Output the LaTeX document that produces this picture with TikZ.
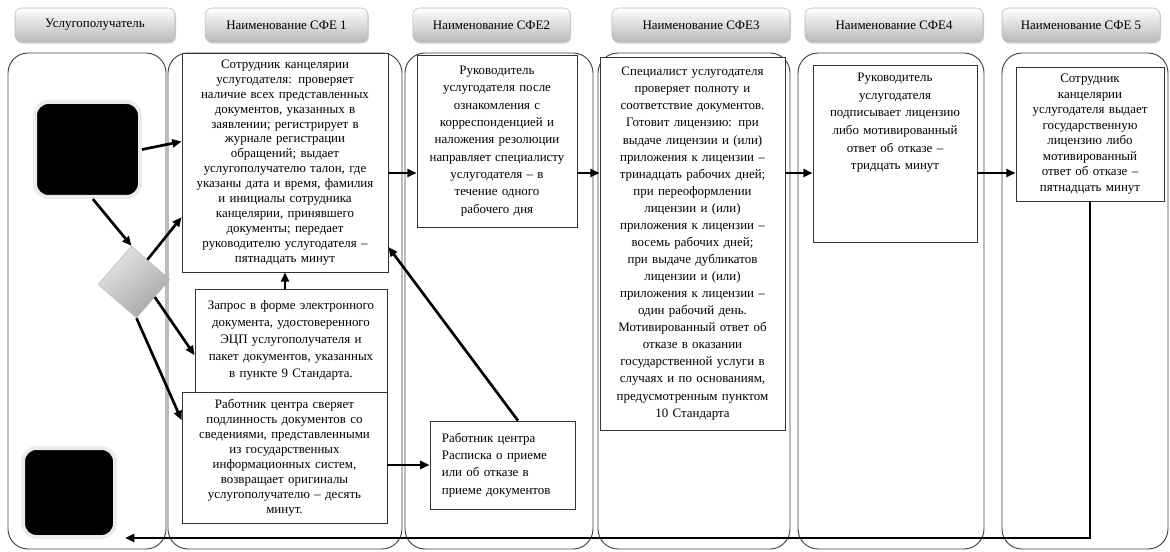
\documentclass[tikz,border=0pt]{standalone}
\usepackage{fontspec}
\setmainfont{Liberation Serif}
\usetikzlibrary{positioning,shapes.geometric,arrows.meta,shadows}

\begin{document}
\begin{tikzpicture}[x=0.75pt,y=-0.75pt,
    lane/.style={draw=black!75,line width=0.7pt,rounded corners=15pt},
    tab/.style={draw=gray!55,rounded corners=5pt,top color=white,bottom color=gray!55,
        drop shadow={opacity=0.35,shadow xshift=0.8pt,shadow yshift=-1.2pt},
        font=\fontsize{9.7}{11}\selectfont,minimum height=25.5pt,inner sep=0pt},
    txt/.style={align=center,inner sep=2pt,font=\fontsize{9.7}{#1}\selectfont},
    box/.style={txt=#1,draw=black!80,line width=0.6pt,fill=white},
    blk/.style={fill=black,draw=gray!15,line width=3pt,rounded corners=10pt,inner sep=0pt},
    arr/.style={line width=2pt,-{Triangle[length=7pt,width=6pt]}}]
    \useasboundingbox (0,0) rectangle (1170,552);

    \draw[lane] (8,53) rectangle (166,549);
    \draw[lane] (168,53) rectangle (402,549);
    \draw[lane] (405,53) rectangle (593,549);
    \draw[lane] (598,53) rectangle (790,549);
    \draw[lane] (798,53) rectangle (984,549);
    \draw[lane] (1002,53) rectangle (1168,549);

    \node (h0) at (95,25) [tab,minimum width=120pt] {Услугополучатель};
    \node (h1) at (286.5,25) [tab,minimum width=122pt] {Наименование СФЕ 1};
    \node (h2) at (491.5,25) [tab,minimum width=118pt] {Наименование СФЕ2};
    \node (h3) at (701,25) [tab,minimum width=133.5pt] {Наименование СФЕ3};
    \node (h4) at (894,25) [tab,minimum width=133.5pt] {Наименование СФЕ4};
    \node (h5) at (1081,25) [tab,minimum width=118.5pt] {Наименование СФЕ 5};

    \node (s1) at (285,162.5) [box=11.2,minimum width=154.5pt,minimum height=164.25pt,text width=150pt]
        {Сотрудник канцелярии\\ услугодателя: проверяет\\ наличие всех представленных\\
         документов, указанных в\\ заявлении; регистрирует в\\ журнале регистрации\\
         обращений;  выдает\\ услугополучателю талон, где\\ указаны дата и время, фамилия\\
         и инициалы сотрудника\\ канцелярии,  принявшего\\ документы; передает\\
         руководителю  услугодателя –\\ пятнадцать  минут};
    \node (zap) at (291,340.5) [box=12.75,minimum width=144pt,minimum height=77.25pt,text width=139.5pt]
        {Запрос в форме электронного\\ документа, удостоверенного\\ ЭЦП услугополучателя и\\
         пакет документов, указанных\\ в пункте 9 Стандарта.};
    \node (rab) at (284.5,457.5) [box=11.25,minimum width=153.75pt,minimum height=98.25pt,text width=149pt]
        {Работник центра сверяет\\ подлинность документов со\\ сведениями, представленными\\
         из государственных\\ информационных систем,\\ возвращает оригиналы\\
         услугополучателю – десять\\ минут.};
    \node (s2) at (497,141) [box=13,minimum width=120pt,minimum height=129pt,text width=115.5pt]
        {Руководитель\\ услугодателя после\\ ознакомления с\\ корреспонденцией и\\
         наложения резолюции\\ направляет специалисту\\ услугодателя – в\\ течение одного\\
         рабочего дня};
    \node (ras) at (502.5,465) [box=13,align=left,minimum width=108.75pt,minimum height=66pt,
        text width=91pt,inner xsep=8.9pt]
        {Работник центра\\ Расписка о приеме\\ или об отказе в\\ приеме документов};
    \node (s3) at (692.5,243.5) [box=12.8,minimum width=138.75pt,minimum height=279.75pt,text width=134pt]
        {Специалист услугодателя\\ проверяет полноту и\\ соответствие документов.\\
         Готовит  лицензию:  при\\ выдаче лицензии и (или)\\ приложения к лицензии –\\
         тринадцать рабочих дней;\\ при переоформлении\\ лицензии и (или)\\
         приложения к лицензии –\\ восемь рабочих дней;\\ при выдаче дубликатов\\
         лицензии и (или)\\ приложения к лицензии –\\ один рабочий день.\\
         Мотивированный ответ об\\ отказе в оказании\\ государственной услуги в\\
         случаях и по основаниям,\\ предусмотренным пунктом\\ 10 Стандарта};
    \node (s4) at (895,153.5) [box=13.3,minimum width=123pt,minimum height=132.75pt] {};
    \node (t4) [txt=13.3,text width=118pt,below=4pt of s4.north]
        {Руководитель\\ услугодателя\\ подписывает лицензию\\ либо мотивированный\\
         ответ об отказе –\\ тридцать минут};
    \node (s5) at (1090,134) [box=11.6,minimum width=111pt,minimum height=100.5pt,text width=106.5pt]
        {Сотрудник\\ канцелярии\\ услугодателя выдает\\ государственную\\ лицензию либо\\
         мотивированный\\ ответ об отказе –\\ пятнадцать минут};

    \node (u1) at (87.5,149.5) [blk,minimum width=78.75pt,minimum height=71.25pt] {};
    \node (u2) at (69,492.5) [blk,minimum width=69pt,minimum height=66.75pt] {};
    \node (d) at (134,282) [diamond,aspect=1,minimum width=54pt,minimum height=54pt,inner sep=0pt,
        rotate=4,draw=gray!55,top color=gray!20,bottom color=gray!70,shading angle=40] {};

    \coordinate (mid) at (0,173);
    \coordinate (bot) at (0,538);
    \draw[arr] (u1.east) -- ([yshift=6pt]u1.east -| s1.west);
    \draw[arr] ([xshift=4pt]u1.south) -- (d.north);
    \draw[arr] (d.55) -- ([yshift=-41pt]s1.west);
    \draw[arr] (d.-40) -- ([yshift=-11pt]zap.west);
    \draw[arr] (d.south) -- ([yshift=28pt]rab.west);
    \draw[arr] (s1.south |- zap.north) -- (s1.south);
    \draw[arr] (rab.east |- ras.west) -- (ras.west);
    \draw[arr] ([xshift=11.6pt]ras.north) -- ([yshift=-63.4pt]s1.east);
    \draw[arr] (s1.east |- mid) -- (s2.west |- mid);
    \draw[arr] (s2.east |- mid) -- (s3.west |- mid);
    \draw[arr] (s3.east |- mid) -- (s4.west |- mid);
    \draw[arr] (s4.east |- mid) -- (s5.west |- mid);
    \draw[arr] (s5.south) -- (s5.south |- bot) -- ([xshift=6pt]u2.east |- bot);
\end{tikzpicture}
\end{document}
